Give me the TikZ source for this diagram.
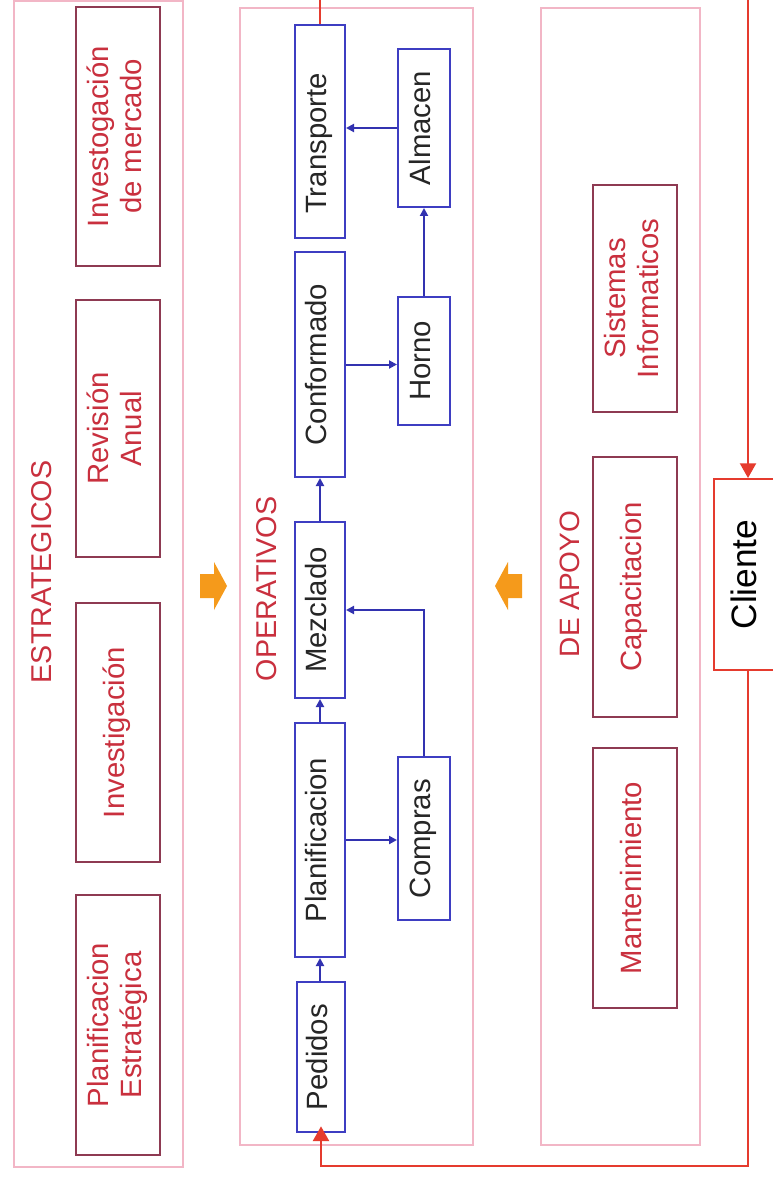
\documentclass[tikz,border=0pt]{standalone}
\usepackage{fontspec}
\setmainfont{Liberation Sans}
\usetikzlibrary{arrows.meta,calc}
\definecolor{pinkc}{HTML}{F2B6C6}
\definecolor{maroonc}{HTML}{8E3A52}
\definecolor{redtxt}{HTML}{C9303E}
\definecolor{bluebox}{HTML}{3E3EC2}
\definecolor{bluearr}{HTML}{3232B0}
\definecolor{redline}{HTML}{E53B2E}
\definecolor{orangec}{HTML}{F59A1B}
\newcommand\rt[1]{\rotatebox{90}{\begin{tabular}{@{}c@{}}#1\end{tabular}}}
\tikzset{
  mk/.style 2 args={minimum width=#1*0.75pt, minimum height=#2*0.75pt},
  cont/.style={draw=pinkc, line width=1.5pt},
  sbox/.style={draw=maroonc, line width=1.5pt, text=redtxt, inner sep=0pt,
    font=\fontsize{22}{25}\selectfont},
  obox/.style={draw=bluebox, line width=1.5pt, text=black!85, inner sep=0pt,
    font=\fontsize{22}{25}\selectfont},
  cbox/.style={draw=redline, line width=1.5pt, text=black, inner sep=0pt,
    font=\fontsize{26.5}{30}\selectfont},
  lbl/.style={text=redtxt, rotate=90, inner sep=0pt},
  barrow/.style={draw=bluearr, line width=1.5pt, -{Triangle[length=6pt,width=6pt]}},
  rarrow/.style={draw=redline, line width=1.5pt, -{Triangle[length=11pt,width=12pt]}},
  oarrow/.style={fill=orangec, draw=none}
}
\begin{document}
\begin{tikzpicture}[x=0.75pt,y=-0.75pt]
\useasboundingbox (0,0) rectangle (773,1180);
\clip (0,0) rectangle (773,1180);
\fill[white] (0,0) rectangle (773,1180);

% containers
\draw[cont] (14,1) rectangle (183,1167);
\draw[cont] (240,8) rectangle (473,1145);
\draw[cont] (541,8) rectangle (700,1145);

% group labels
\node[lbl, font=\fontsize{21.5}{24}\selectfont] (lest) at (42,572) {ESTRATEGICOS};
\node[lbl, font=\fontsize{21.5}{24}\selectfont] (lope) at (267,589) {OPERATIVOS};
\node[lbl, font=\fontsize{21}{24}\selectfont] (lapo) at (570,584) {DE APOYO};

% estrategicos
\node[sbox, mk={84}{259}] (invm) at (118,136.5) {\rt{Investogación\\de mercado}};
\node[sbox, mk={84}{257}] (revi) at (118,428.5) {\rt{Revisión\\Anual}};
\node[sbox, mk={84}{259}] (inve) at (118,732.5) {\rt{Investigación}};
\node[sbox, mk={84}{260}] (plae) at (118,1025) {\rt{Planificacion\\Estratégica}};

% operativos
\node[obox, mk={50}{213}] (transp) at (320,131.5) {\rt{Transporte\hspace*{18pt}}};
\node[obox, mk={50}{225}] (conf) at (320,364.5) {\rt{Conformado}};
\node[obox, mk={50}{176}] (mezc) at (320,610) {\rt{Mezclado}};
\node[obox, mk={50}{234}] (plan) at (320,840) {\rt{Planificacion}};
\node[obox, mk={48}{150}] (pedi) at (321,1057) {\rt{Pedidos}};
\node[obox, mk={52}{158}] (alma) at (424,128) {\rt{Almacen}};
\node[obox, mk={52}{128}] (horn) at (424,361) {\rt{Horno}};
\node[obox, mk={52}{163}] (comp) at (424,838.5) {\rt{Compras}};

% apoyo
\node[sbox, mk={84}{227}] (sist) at (635,298.5) {\rt{Sistemas\\Informaticos}};
\node[sbox, mk={84}{260}] (capa) at (635,587) {\rt{Capacitacion}};
\node[sbox, mk={84}{260}] (mant) at (635,878) {\rt{Mantenimiento}};

% cliente
\node[cbox, mk={68}{191}] (clie) at (748,574.5) {\rt{Cliente}};

% orange block arrows
\fill[oarrow] (200,574) -- (214,574) -- (214,562) -- (227,586) -- (214,610)
  -- (214,598) -- (200,598) -- cycle;
\fill[oarrow] (522,574) -- (508,574) -- (508,562) -- (495,586) -- (508,610)
  -- (508,598) -- (522,598) -- cycle;

% blue connectors
\draw[barrow] (pedi.north -| plan.south) -- (plan.south);
\draw[barrow] (plan.north) -- (mezc.south);
\draw[barrow] (mezc.north) -- (conf.south);
\draw[barrow] (plan.east) -- (plan.east -| comp.west);
\draw[barrow] (comp.north) |- (mezc.east);
\draw[barrow] (conf.east) -- (conf.east -| horn.west);
\draw[barrow] (horn.north) -- (alma.south);
\draw[barrow] (alma.west) -- (alma.west -| transp.east);

% red loop
\coordinate (rtop) at (530,-20);
\coordinate (rbot) at (530,1166);
\draw[rarrow] (transp.north) |- (rtop) -| (clie.north);
\draw[rarrow, shorten >=-5pt] (clie.south) |- (rbot) -| (pedi.south);
\end{tikzpicture}
\end{document}
